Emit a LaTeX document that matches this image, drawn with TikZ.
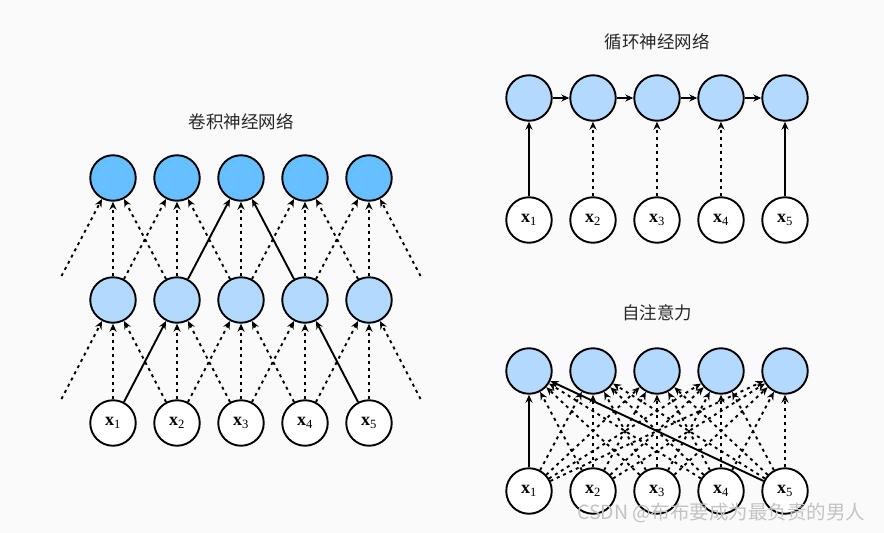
\documentclass[tikz,border=0pt]{standalone}
\usepackage{fontspec}
\newfontfamily\cjk{Noto Sans CJK SC}
\newfontfamily\lab{Liberation Serif}
\usetikzlibrary{arrows.meta}
\definecolor{bgc}{RGB}{250,250,250}
\definecolor{darkblue}{RGB}{102,191,255}
\definecolor{lightblue}{RGB}{179,217,255}
\definecolor{titlec}{RGB}{40,40,40}
\definecolor{wmark}{RGB}{195,195,195}
\tikzset{
  unit/.style={circle, draw=black, line width=1.9pt, minimum size=45.5pt, inner sep=0pt},
  topn/.style={unit, fill=darkblue},
  hidn/.style={unit, fill=lightblue},
  inpn/.style={unit, fill=white, font=\lab\fontsize{18}{18}\selectfont},
  title/.style={font=\cjk\fontsize{17.5}{17.5}\selectfont, text=titlec},
  dline/.style={line width=1.9pt, dash pattern=on 3pt off 4pt, -{Stealth[length=8pt,width=7pt]}},
  sline/.style={line width=1.9pt, -{Stealth[length=8pt,width=7pt]}},
}
\newcommand{\xl}[1]{\textbf{x}\textsubscript{#1}}
\begin{document}
\begin{tikzpicture}[x=1pt,y=-1pt]
\fill[bgc] (0,0) rectangle (884,533);
\useasboundingbox (0,0) rectangle (884,533);

% ---------------- CNN ----------------
\node[title] (cnntitle) at (241,122) {卷积神经网络};
\foreach \i/\x in {1/113,2/177,3/241,4/305,5/369}{
  \node[topn] (t\i) at (\x,178) {};
  \node[hidn] (m\i) at (\x,300) {};
  \node[inpn] (b\i) at (\x,423) {\xl{\i}};
}
\coordinate (lb) at (61.5,399);
\coordinate (rb) at (420.5,399);
\coordinate (lt) at (61.5,276);
\coordinate (rt) at (420.5,276);
% bottom -> mid
\foreach \i in {1,...,5}{ \draw[dline] (b\i) -- (m\i); \draw[dline] (m\i) -- (t\i); }
\foreach \i/\j in {2/3,3/4,4/5}{ \draw[dline] (b\i) -- (m\j); }
\foreach \i/\j in {2/1,3/2,4/3}{ \draw[dline] (b\i) -- (m\j); }
\draw[sline] (b1) -- (m2);
\draw[sline] (b5) -- (m4);
\draw[dline] (lb) -- (m1);
\draw[dline] (rb) -- (m5);
% mid -> top
\foreach \i/\j in {1/2,3/4,4/5}{ \draw[dline] (m\i) -- (t\j); }
\foreach \i/\j in {2/1,3/2,5/4}{ \draw[dline] (m\i) -- (t\j); }
\draw[sline] (m2) -- (t3);
\draw[sline] (m4) -- (t3);
\draw[dline] (lt) -- (t1);
\draw[dline] (rt) -- (t5);

% ---------------- RNN ----------------
\node[title] (rnntitle) at (657,42) {循环神经网络};
\foreach \i/\x in {1/529,2/593,3/657,4/721,5/785}{
  \node[hidn] (rh\i) at (\x,98) {};
  \node[inpn] (rx\i) at (\x,220) {\xl{\i}};
}
\foreach \i/\j in {1/2,2/3,3/4,4/5}{ \draw[sline] (rh\i) -- (rh\j); }
\draw[sline] (rx1) -- (rh1);
\foreach \i in {2,3,4}{ \draw[dline] (rx\i) -- (rh\i); }
\draw[sline] (rx5) -- (rh5);

% ---------------- Self-attention ----------------
\node[title] (satitle) at (657,313) {自注意力};
\foreach \i/\x in {1/529,2/593,3/657,4/721,5/785}{
  \node[hidn] (sh\i) at (\x,371) {};
  \node[inpn] (sx\i) at (\x,491) {\xl{\i}};
}
\foreach \j in {2,3,4}{ \draw[dline] (sx\j) -- (sh1); }
\foreach \i in {2,...,5}{ \foreach \j in {1,...,5}{ \draw[dline] (sx\j) -- (sh\i); } }
\draw[sline] (sx1) -- (sh1);
\draw[sline] (sx5) -- (sh1);

% watermark
\node[font=\cjk\fontsize{19.5}{19.5}\selectfont, text=wmark, anchor=east] (wm) at (869,513) {CSDN @布布要成为最负责的男人};
\end{tikzpicture}
\end{document}
